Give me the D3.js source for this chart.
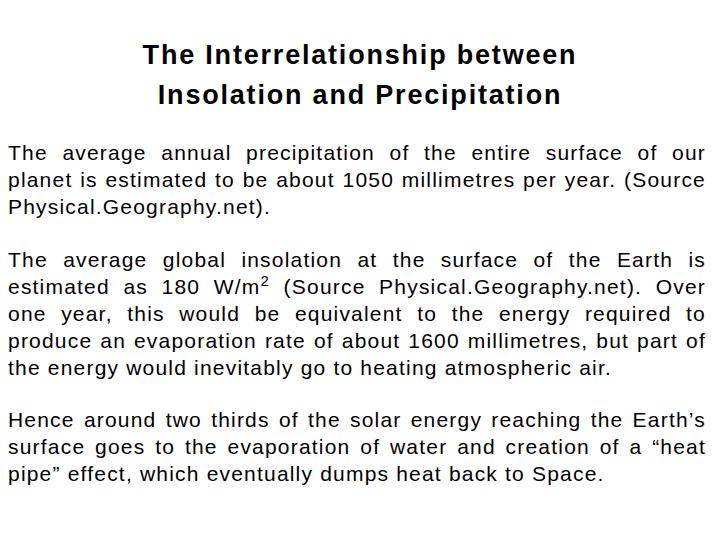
<!DOCTYPE html>
<html><head><meta charset="utf-8">
<script src="https://cdn.jsdelivr.net/npm/d3@7"></script>
<style>body{margin:0;background:#fff}</style></head>
<body><div id="c"></div>
<script>
const titleLines = ["The Interrelationship between", "Insolation and Precipitation"];
const para1 = ["The average annual precipitation of the entire surface of our",
  "planet is estimated to be about 1050 millimetres per year. (Source",
  "Physical.Geography.net)."];
const para2 = ["The average global insolation at the surface of the Earth is",
  "estimated as 180 W/m^2 (Source Physical.Geography.net). Over",
  "one year, this would be equivalent to the energy required to",
  "produce an evaporation rate of about 1600 millimetres, but part of",
  "the energy would inevitably go to heating atmospheric air."];
const para3 = ["Hence around two thirds of the solar energy reaching the Earth’s",
  "surface goes to the evaporation of water and creation of a “heat",
  "pipe” effect, which eventually dumps heat back to Space."];
const paraTops = [160, 267, 427];

const svg = d3.select("#c").append("svg").attr("width",720).attr("height",540)
  .style("font-family","'Liberation Sans', Arial, sans-serif");
svg.selectAll("text.t").data(titleLines).join("text").attr("class","t")
  .attr("x",360).attr("y",(d,i)=>64+i*40).attr("text-anchor","middle")
  .attr("font-size",27).attr("font-weight","bold").attr("letter-spacing",1.8)
  .attr("fill","#000").text(d=>d);

const lh = 27, L = 8, R = 706, FS = 21, LS = 1.2;
function addWord(x, y, w) {
  const t = svg.append("text").attr("x",x).attr("y",y).attr("font-size",FS)
    .attr("letter-spacing",LS).attr("fill","#000");
  const parts = w.split("^");
  if (parts.length > 1) {
    t.append("tspan").text(parts[0]);
    t.append("tspan").attr("dy",-8).attr("font-size",15).text(parts[1][0]);
    t.append("tspan").attr("dy",8).text(parts[1].slice(1));
  } else t.text(w);
  return t;
}
[para1, para2, para3].forEach((p, pi) => {
  p.forEach((line, li) => {
    const y = paraTops[pi] + li*lh;
    const words = line.split(" ");
    const nodes = words.map(w => addWord(0, y, w));
    const widths = nodes.map(n => n.node().getComputedTextLength());
    const total = d3.sum(widths);
    const last = li === p.length - 1;
    const gap = last ? 7 : (R - L - total) / (words.length - 1);
    let x = L;
    nodes.forEach((n, i) => { n.attr("x", x); x += widths[i] + gap; });
  });
});
</script></body></html>
